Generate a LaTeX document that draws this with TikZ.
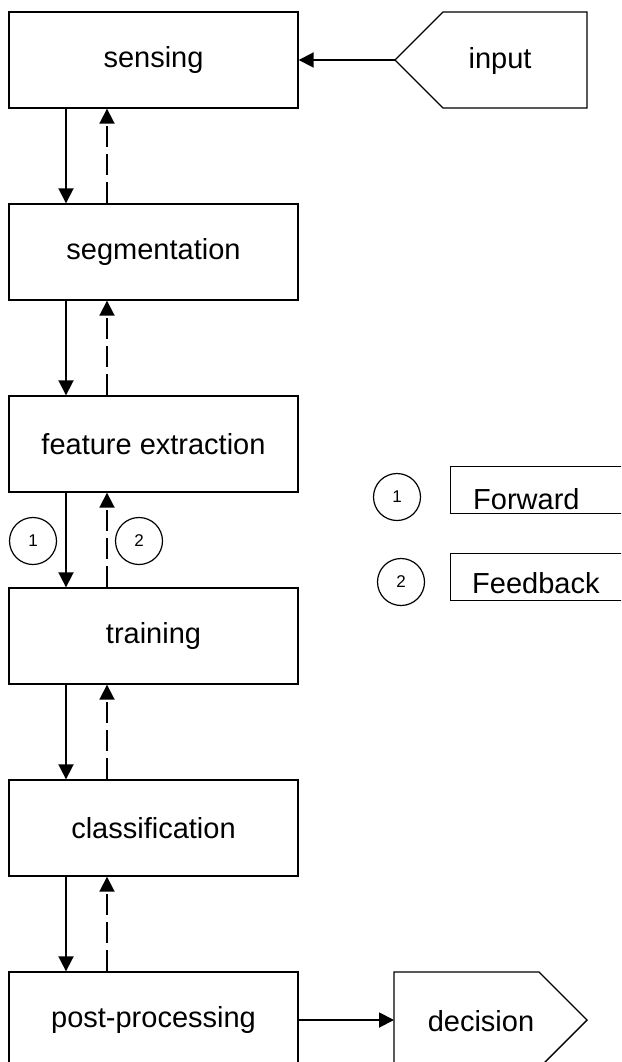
\documentclass[tikz,border=0pt]{standalone}
\usepackage{fontspec}
\setmainfont{Liberation Sans}
\usetikzlibrary{arrows.meta}
\begin{document}
\begin{tikzpicture}[x=1pt,y=-1pt,
  stage/.style={draw, line width=1.4pt, minimum width=289pt, minimum height=96pt, inner sep=0pt, font=\fontsize{29}{34}\selectfont},
  shapeline/.style={draw, line width=1.4pt},
  lbl/.style={inner sep=0pt, font=\fontsize{29}{34}\selectfont},
  fwd/.style={line width=1.9pt, -{Triangle[width=15pt,length=15pt]}},
  fbk/.style={fwd, dash pattern=on 21pt off 7pt},
  num/.style={draw, circle, line width=1.2pt, minimum size=47pt, inner sep=0pt, font=\fontsize{17}{20}\selectfont},
  legbox/.style={draw, line width=1.4pt, minimum width=190pt, minimum height=47pt, inner sep=0pt, anchor=north west}
]
\useasboundingbox (0,0) rectangle (621,1062);
\clip (0,0) rectangle (621,1062);
\fill[white] (0,0) rectangle (621,1062);

\coordinate (xa) at (66,0);
\coordinate (xb) at (107,0);

\node[stage] (sense) at (153.5,60) {sensing};
\node[stage] (seg) at (153.5,252) {segmentation};
\node[stage] (feat) at (153.5,444) {feature extraction};
\node[stage] (train) at (153.5,636) {training};
\node[stage] (cls) at (153.5,828) {classification};
\node[stage] (post) at (153.5,1020) {post-processing};

% input shape
\draw[shapeline] (395,60) -- (443,12) -- (587,12) -- (587,108) -- (443,108) -- cycle;
\coordinate (inptip) at (395,60);
\node[lbl] (inp) at (500,61) {input};

% decision shape
\draw[shapeline] (394,972) -- (539,972) -- (587,1020) -- (539,1068) -- (394,1068) -- cycle;
\coordinate (dectail) at (394,1020);
\node[lbl] (dec) at (481,1021) {decision};

\draw[fwd] (inptip) -- (sense.east);
\draw[fwd] (post.east) -- (dectail);

\foreach \a/\b in {sense/seg, seg/feat, feat/train, train/cls, cls/post}{
  \draw[fwd] (\a.south -| xa) -- (\b.north -| xa);
  \draw[fbk] (\b.north -| xb) -- (\a.south -| xb);
}

\node[num] (c1) at (33,541) {1};
\node[num] (c2) at (139,541) {2};

% legend
\node[num] (lc1) at (397,497) {1};
\node[num] (lc2) at (401,582) {2};
\node[legbox] (lb1) at (450,466) {};
\node[legbox] (lb2) at (450,553) {};
\node[lbl, anchor=base west] (lt1) at (473,509) {Forward};
\node[lbl, anchor=base west] (lt2) at (472,593) {Feedback};
\end{tikzpicture}
\end{document}
